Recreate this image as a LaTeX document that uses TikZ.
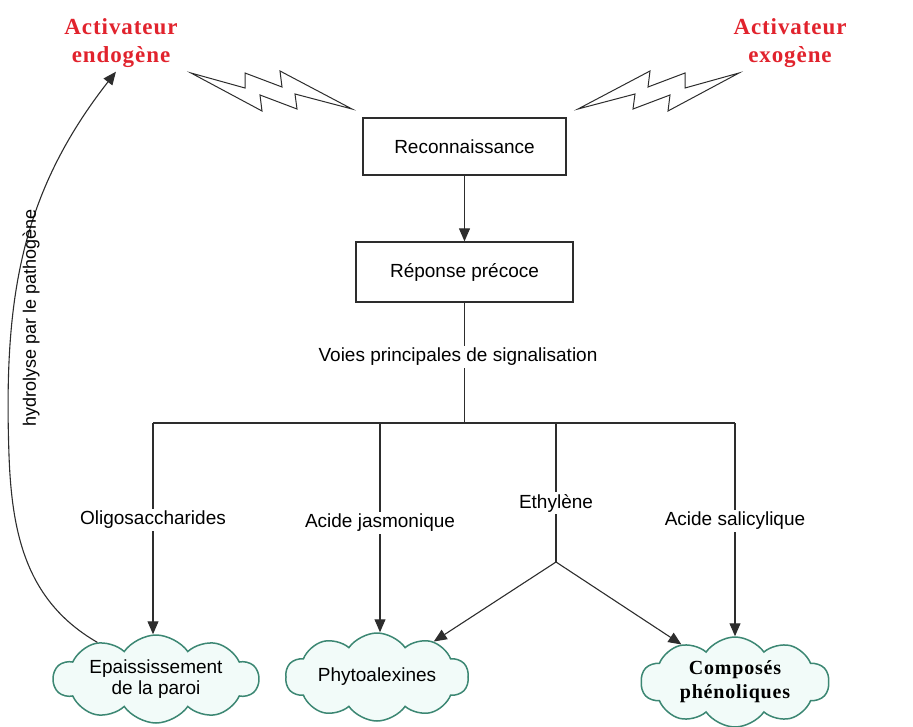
\documentclass[tikz,border=0pt]{standalone}
\usepackage{fontspec}
\setmainfont{Liberation Sans}
\newfontfamily\serifsp[LetterSpace=4]{Liberation Serif}
\usetikzlibrary{shapes.symbols,arrows.meta}
\definecolor{redtxt}{RGB}{225,35,45}
\definecolor{cloudline}{RGB}{60,135,115}
\definecolor{cloudfill}{RGB}{242,251,249}
\definecolor{ln}{RGB}{45,45,45}
\begin{document}
\begin{tikzpicture}[x=1pt,y=-1pt,
  boxnode/.style={draw=ln, line width=1.3pt, inner sep=0pt, font=\fontsize{19}{22}\selectfont},
  lbl/.style={fill=white, inner sep=2pt, font=\fontsize{19}{22}\selectfont},
  arr/.style={draw=ln, line width=1.1pt, -{Triangle[length=13pt,width=11pt]}},
  plain/.style={draw=ln, line width=1.1pt},
  nuage/.style={cloud, cloud puffs=10, cloud puff arc=110, cloud ignores aspect,
    draw=cloudline, fill=cloudfill, line width=1.5pt, inner sep=0pt, align=center,
    font=\fontsize{19}{21}\selectfont},
  redlbl/.style={text=redtxt, align=center, inner sep=4pt,
    font=\serifsp\bfseries\fontsize{23}{28}\selectfont},
  bolt/.style={draw=ln, fill=white, line width=1pt, line join=miter}
]
\useasboundingbox (0,0) rectangle (913,727);

% activators
\node[redlbl] (endo) at (121,43) {Activateur\\endogène};
\node[redlbl] (exo) at (790,43) {Activateur\\exogène};

% lightning bolts
\draw[bolt] (191,73) -- (245,88) -- (245,73) -- (282,87) -- (280,71) -- (352,109)
  -- (295,94) -- (297,109) -- (260,95) -- (262,111) -- cycle;
\draw[bolt] (739,73) -- (685,88) -- (685,73) -- (648,87) -- (650,71) -- (578,109)
  -- (635,94) -- (633,109) -- (670,95) -- (668,111) -- cycle;

% boxes
\node[boxnode, minimum width=203pt, minimum height=57pt] (rec) at (464.5,146.5) {Reconnaissance};
\node[boxnode, minimum width=217pt, minimum height=60pt] (rep) at (464.5,272) {Réponse précoce};

\draw[arr] (rec) -- (rep);

% clouds
\node[nuage, minimum width=205pt, minimum height=88pt] (ep) at (156,679) {Epaississement\\de la paroi};
\node[nuage, minimum width=183pt, minimum height=88pt] (phy) at (377,677) {Phytoalexines};
\node[nuage, minimum width=188pt, minimum height=90pt,
  font=\serifsp\bfseries\fontsize{20}{24}\selectfont] (comp) at (735,682) {Composés\\phénoliques};

% signalling tree
\coordinate (bar) at (464.5,423);
\coordinate (b1) at (153,423);
\coordinate (b2) at (380,423);
\coordinate (b3) at (556,423);
\coordinate (b4) at (735,423);
\coordinate (jn) at (556,562);

\draw[plain] (rep) -- (bar);
\draw[plain] (b1) -- (b4);
\draw[arr] (b1) -- (b1 |- ep.north);
\draw[arr] (b2) -- (b2 |- phy.north);
\draw[plain] (b3) -- (jn);
\draw[arr] (b4) -- (b4 |- comp.north);
\draw[arr] (jn) -- (phy.32);
\draw[arr] (jn) -- (comp.145);

% labels
\node[lbl] (voies) at (458,357) {Voies principales de signalisation};
\node[lbl] (oligo) at (153,520) {Oligosaccharides};
\node[lbl] (jasm) at (380,523) {Acide jasmonique};
\node[lbl] (eth) at (556,503) {Ethylène};
\node[lbl] (sal) at (735,521) {Acide salicylique};

% hydrolysis feedback
\coordinate (hy) at (9,455);
\draw[arr] (ep.148) to[out=150,in=-88] (hy) to[out=92,in=-128] (endo.-100);
\node[rotate=90, font=\fontsize{18}{21}\selectfont] (hyd) at (31,318) {hydrolyse par le pathogène};
\end{tikzpicture}
\end{document}
